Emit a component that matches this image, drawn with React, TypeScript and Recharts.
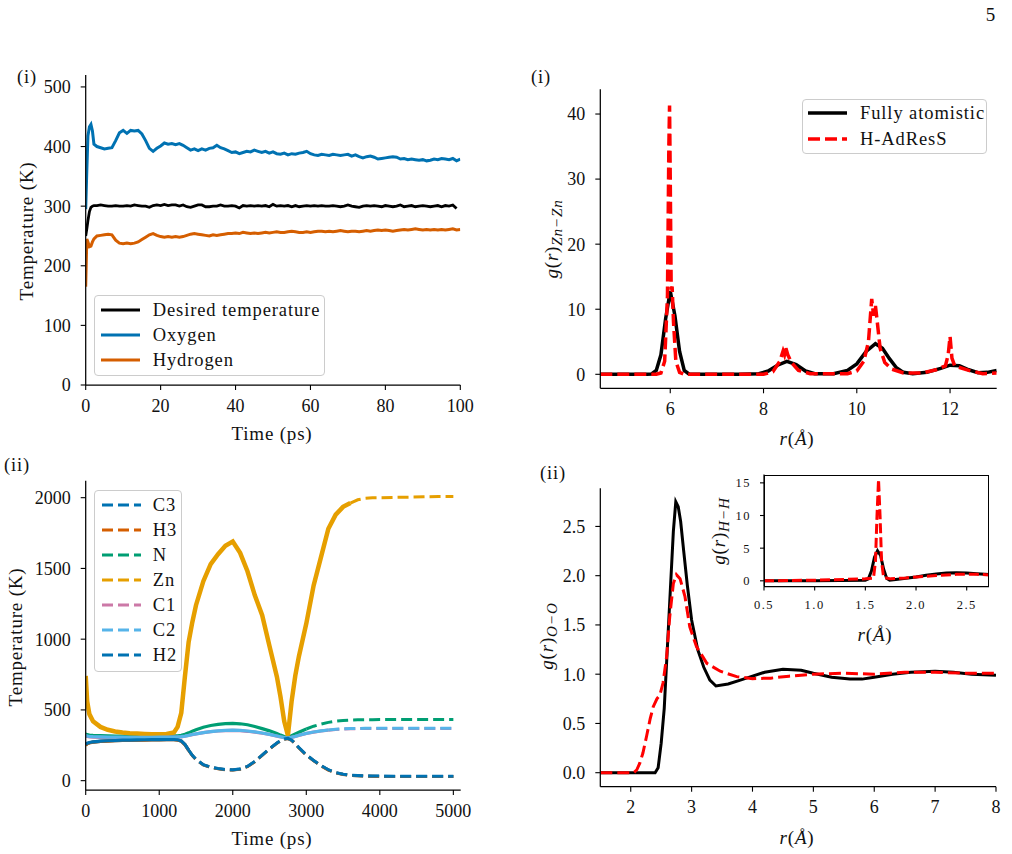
import React from 'react';
import { LineChart, Line, XAxis, YAxis } from 'recharts';

const SERIF = '"Liberation Serif", "Times New Roman", serif';
const INK = '#111';

// (i) left: thermostat check, 0-100 ps
const timeA = [0, 0.3, 0.6, 1, 1.4, 1.8, 2.2, 3, 4, 5, 6, 7, 8, 9, 10, 11, 12, 13, 14, 15, 16, 17, 18, 19, 20,
  21, 22, 23, 24, 25, 26, 27, 28, 29, 30, 31, 32, 33, 34, 35, 36, 37, 38, 39, 40,
  41, 42, 43, 44, 45, 46, 47, 48, 49, 50, 51, 52, 53, 54, 55, 56, 57, 58, 59, 60,
  61, 62, 63, 64, 65, 66, 67, 68, 69, 70, 71, 72, 73, 74, 75, 76, 77, 78, 79, 80,
  81, 82, 83, 84, 85, 86, 87, 88, 89, 90, 91, 92, 93, 94, 95, 96, 97, 98, 99, 100];
const desiredA = [250, 262, 276, 291, 298, 300, 301, 301, 302, 301, 300, 300, 301, 300, 300, 301, 300, 302, 301, 300, 300, 298, 301, 302, 301,
  303, 301, 302, 302, 300, 302, 299, 298, 300, 302, 302, 299, 299, 300, 300, 302, 300, 300, 301, 300,
  297, 301, 300, 301, 300, 301, 300, 301, 299, 303, 300, 301, 300, 301, 299, 301, 299, 300, 301, 300,
  301, 300, 301, 300, 300, 301, 300, 299, 300, 302, 300, 299, 298, 300, 301, 300, 301, 300, 299, 301,
  300, 299, 300, 302, 299, 300, 301, 299, 300, 301, 300, 299, 300, 301, 299, 301, 300, 302, 296, null];
const oxygenA = [295, 360, 418, 433, 437, 426, 404, 400, 398, 396, 397, 398, 410, 423, 427, 422, 427, 426, 427, 421, 410, 397, 392, 397, 401,
  406, 404, 405, 403, 405, 402, 398, 394, 396, 393, 396, 394, 397, 398, 402, 398, 396, 393, 390, 391,
  388, 390, 392, 391, 394, 392, 390, 392, 389, 391, 388, 387, 389, 386, 388, 387, 389, 390, 392, 388,
  386, 385, 387, 386, 385, 387, 386, 385, 386, 387, 384, 386, 383, 381, 383, 384, 382, 379, 380, 381,
  382, 383, 382, 379, 380, 378, 379, 378, 377, 378, 376, 377, 379, 378, 380, 379, 378, 380, 376, 379];
const hydrogenA = [165, 245, 240, 232, 233, 240, 245, 250, 251, 252, 253, 252, 243, 238, 237, 238, 237, 238, 240, 244, 248, 252, 254, 251, 249,
  248, 249, 248, 249, 248, 249, 251, 253, 254, 253, 252, 251, 250, 252, 251, 252, 253, 254, 254, 255,
  254, 256, 255, 254, 255, 254, 255, 256, 255, 256, 257, 256, 256, 257, 258, 257, 256, 256, 257, 256,
  257, 258, 258, 257, 258, 257, 258, 259, 258, 257, 258, 258, 257, 258, 259, 258, 259, 260, 259, 260,
  259, 258, 259, 260, 261, 260, 261, 262, 261, 260, 261, 260, 261, 260, 261, 260, 261, 262, 260, 261];

// (ii) left: per-species temperatures, 0-5000 ps
const timeB = [0, 20, 50, 100, 200, 300, 400, 500, 600, 700, 800, 900, 1000, 1100, 1200, 1250, 1300, 1350, 1400, 1450, 1500,
  1600, 1700, 1800, 1900, 2000, 2100, 2200, 2300, 2400, 2500, 2600, 2650, 2700, 2750, 2800, 2850, 2900,
  3000, 3100, 3200, 3300, 3400, 3500, 3600, 3700, 3800, 3900, 4000, 4200, 4400, 4600, 4800, 5000];
const tC3 = [255, 262, 268, 273, 278, 281, 283, 285, 286, 287, 288, 289, 289, 290, 290, 288, 280, 255, 215, 178, 150,
  112, 95, 85, 78, 76, 82, 100, 135, 180, 225, 265, 282, 294, 298, 286, 262, 232,
  182, 142, 106, 76, 56, 45, 38, 35, 33, 32, 31, 30, 30, 30, 30, 30];
const tH3 = [250, 260, 266, 272, 277, 280, 282, 284, 285, 286, 287, 288, 288, 289, 289, 287, 279, 254, 214, 177, 149,
  111, 94, 84, 77, 75, 81, 99, 134, 179, 224, 264, 281, 293, 297, 285, 261, 231,
  181, 141, 105, 75, 55, 44, 37, 34, 32, 31, 30, 30, 29, 29, 29, 29];
const tN = [330, 325, 322, 320, 318, 316, 315, 315, 314, 314, 314, 314, 314, 315, 316, 317, 320, 328, 338, 350, 360,
  378, 390, 398, 403, 405, 402, 395, 383, 368, 352, 333, 322, 312, 306, 318, 330, 342,
  365, 385, 400, 412, 420, 425, 428, 430, 431, 431, 432, 432, 432, 432, 432, 432];
const tZn = [740, 560, 470, 420, 380, 360, 348, 340, 335, 333, 330, 328, 328, 330, 340, 380, 480, 740, 980, 1120, 1240,
  1410, 1530, 1600, 1660, 1690, 1610, 1480, 1310, 1170, 950, 735, 590, 420, 320, 560, 740, 880,
  1110, 1380, 1580, 1780, 1880, 1935, 1962, 1985, 1995, 1999, 2000, 2002, 2004, 2006, 2008, 2008];
const tC1 = [315, 312, 310, 308, 306, 305, 305, 304, 304, 304, 304, 305, 305, 306, 307, 308, 310, 314, 319, 325, 330,
  339, 346, 351, 354, 355, 353, 349, 343, 335, 326, 315, 309, 303, 300, 306, 312, 320,
  333, 343, 351, 357, 362, 365, 367, 368, 369, 369, 369, 369, 369, 369, 369, 369];
const tC2 = [320, 316, 313, 311, 309, 308, 307, 307, 306, 306, 306, 306, 307, 307, 308, 309, 311, 315, 320, 326, 331,
  340, 347, 352, 355, 357, 355, 351, 345, 337, 327, 316, 310, 304, 301, 307, 313, 321,
  334, 344, 352, 358, 363, 366, 368, 369, 370, 370, 370, 370, 370, 370, 370, 370];
const tH2 = [258, 264, 270, 274, 279, 282, 284, 286, 287, 288, 289, 290, 290, 291, 291, 289, 281, 256, 216, 179, 151,
  113, 96, 86, 79, 77, 83, 101, 136, 181, 226, 266, 283, 295, 299, 287, 263, 233,
  183, 143, 107, 77, 57, 46, 39, 36, 34, 33, 32, 31, 31, 31, 31, 31];

const speciesNames = ['C3', 'H3', 'N', 'Zn', 'C1', 'C2', 'H2'];
const speciesColors = ['#0072B2', '#D55E00', '#009E73', '#E69F00', '#CC79A7', '#56B4E9', '#0072B2'];
const speciesValues = [tC3, tH3, tN, tZn, tC1, tC2, tH2];
// the raw traces are so noisy that the dashes fill in; they read as solid up to here
const denseUntil = [1400, 1400, 3000, 3600, 3300, 3300, 1400];

// (i) right: g(r) Zn-Zn
const znR_fa = [4.5, 5.5, 5.6, 5.7, 5.8, 5.9, 6.0, 6.1, 6.2, 6.3, 6.4, 6.6, 7.5, 7.9, 8.1, 8.3, 8.5, 8.7, 8.9, 9.1,
  9.5, 9.8, 10.0, 10.2, 10.4, 10.55, 10.7, 10.85, 11.0, 11.2, 11.5, 11.8, 12.0, 12.2, 12.4, 12.6, 12.8, 13.0];
const znG_fa = [0, 0, 0.05, 0.6, 3, 8.5, 12.8, 9, 3.5, 0.6, 0.05, 0, 0, 0.1, 0.5, 1.4, 2.0, 1.5, 0.5, 0.1,
  0.1, 0.6, 1.6, 3.5, 4.7, 4.0, 2.4, 1.0, 0.3, 0.1, 0.3, 0.9, 1.4, 1.3, 0.7, 0.25, 0.3, 0.6];
const znR_ad = [4.5, 5.7, 5.8, 5.88, 5.94, 5.97, 5.985, 6.0, 6.02, 6.04, 6.07, 6.12, 6.2, 6.3, 8.0, 8.2, 8.35, 8.42, 8.45, 8.48,
  8.52, 8.6, 8.75, 9.0, 9.8, 10.0, 10.15, 10.25, 10.32, 10.36, 10.4, 10.44, 10.5, 10.6, 10.75, 11.0, 11.4, 11.7, 11.9, 11.96,
  12.0, 12.04, 12.1, 12.4, 12.7, 13.0];
const znG_ad = [0, 0, 0.2, 2, 12, 35, 41.3, 30, 13, 13.5, 8, 2, 0.3, 0, 0, 0.4, 2, 3.6, 3, 4,
  3, 1.8, 0.6, 0.1, 0.1, 0.5, 2, 5, 11.6, 9, 10.5, 8, 4, 1.8, 0.8, 0.2, 0.2, 0.7, 1.3, 3,
  5.8, 2.5, 1.3, 0.6, 0.1, 0.2];

// (ii) right: g(r) O-O
const ooR_fa = [1.5, 2.4, 2.45, 2.5, 2.55, 2.6, 2.65, 2.7, 2.74, 2.78, 2.82, 2.87, 2.93, 3.0, 3.1, 3.2, 3.3, 3.4, 3.6, 3.8,
  4.0, 4.2, 4.5, 4.8, 5.0, 5.3, 5.6, 5.8, 6.0, 6.3, 6.6, 7.0, 7.3, 7.6, 8.0];
const ooG_fa = [0, 0, 0.05, 0.3, 0.65, 1.25, 1.85, 2.45, 2.75, 2.7, 2.55, 2.25, 1.9, 1.55, 1.25, 1.07, 0.94, 0.88, 0.9, 0.94,
  0.98, 1.02, 1.05, 1.04, 1.01, 0.97, 0.95, 0.95, 0.97, 1.0, 1.02, 1.03, 1.02, 1.0, 0.99];
const ooR_ad = [1.5, 2.05, 2.1, 2.15, 2.2, 2.26, 2.32, 2.37, 2.43, 2.48, 2.53, 2.59, 2.64, 2.7, 2.75, 2.81, 2.89, 2.97, 3.08, 3.25,
  3.47, 3.74, 4.0, 4.3, 4.6, 5.0, 5.5, 6.0, 6.5, 7.0, 7.5, 8.0];
const ooG_ad = [0, 0, 0.03, 0.1, 0.2, 0.37, 0.55, 0.67, 0.75, 0.79, 0.91, 1.18, 1.58, 1.92, 2.01, 1.97, 1.79, 1.48, 1.28, 1.11,
  1.03, 0.975, 0.955, 0.96, 0.98, 1.0, 1.01, 1.0, 1.02, 1.02, 1.01, 1.01];

// inset: g(r) H-H
const hhR_fa = [0.5, 1.0, 1.5, 1.53, 1.56, 1.59, 1.62, 1.65, 1.68, 1.71, 1.74, 1.8, 1.9, 2.0, 2.1, 2.2, 2.3, 2.4, 2.5, 2.6, 2.72];
const hhG_fa = [0, 0.02, 0.1, 0.3, 1.5, 3.6, 4.6, 3.9, 1.8, 0.4, 0.1, 0.2, 0.4, 0.6, 0.85, 1.05, 1.2, 1.25, 1.2, 1.1, 0.95];
const hhR_ad = [0.5, 1.0, 1.5, 1.58, 1.6, 1.615, 1.63, 1.645, 1.66, 1.68, 1.75, 1.9, 2.0, 2.2, 2.4, 2.6, 2.72];
const hhG_ad = [0, 0.1, 0.3, 0.4, 3, 10, 15.5, 10, 3, 0.5, 0.3, 0.45, 0.6, 0.8, 1.0, 1.0, 0.9];

const thermoRows = timeA.map((t, i) => ({ t, desired: desiredA[i], oxygen: oxygenA[i], hydrogen: hydrogenA[i] }));
const speciesRows = timeB.map((t, i) => {
  const row: Record<string, number> = { t };
  speciesNames.forEach((n, k) => { row[n] = speciesValues[k][i]; });
  return row;
});
const pairs = (xs: number[], ys: number[]) => xs.map((r, i) => ({ r, g: ys[i] }));

const axisLine = { stroke: '#000', strokeWidth: 1.25 };
const tickLine = { stroke: '#000', strokeWidth: 1.1 };
const tick = { fill: INK, fontSize: 18, fontFamily: SERIF };
const smallTick = { fill: INK, fontSize: 12.5, fontFamily: SERIF, letterSpacing: 1.5 };
const RED_DASH = '12 5';

function Txt({ x, y, size = 19, rotate = false, children }: any) {
  return (
    <div
      style={{
        position: 'absolute', left: x, top: y, whiteSpace: 'nowrap', lineHeight: 1,
        transform: `translate(-50%, -50%)${rotate ? ' rotate(-90deg)' : ''}`,
        fontFamily: SERIF, fontSize: size, color: INK, letterSpacing: 0.8,
      }}
    >
      {children}
    </div>
  );
}

function LegendBox({ box, firstY, step, sampleX, textX, items }: any) {
  return (
    <div
      style={{
        position: 'absolute', left: box[0], top: box[1], width: box[2], height: box[3], boxSizing: 'border-box',
        border: '1px solid #cccccc', borderRadius: 4, background: 'rgba(255,255,255,0.8)',
      }}
    >
      {items.map((it: any, i: number) => (
        <div key={it.name} style={{ position: 'absolute', left: 0, top: firstY - box[1] + i * step - 12, height: 24, width: '100%' }}>
          <svg width={39} height={24} style={{ position: 'absolute', left: sampleX - box[0], top: 0 }}>
            <line x1={0} y1={12} x2={39} y2={12} stroke={it.color} strokeWidth={it.width || 3} strokeDasharray={it.dash} />
          </svg>
          <span style={{
            position: 'absolute', left: textX - box[0], top: 12, transform: 'translateY(-50%)', lineHeight: 1,
            fontFamily: SERIF, fontSize: 18.5, color: INK, whiteSpace: 'nowrap', letterSpacing: 0.9,
          }}>{it.name}</span>
        </div>
      ))}
    </div>
  );
}

const RA = () => (<><i>r</i>(<i>Å</i>)</>);
const SUB = { fontSize: '0.8em' };

export default function App() {
  return (
    <div style={{ position: 'absolute', left: 0, top: 0, width: 1012, height: 854, background: '#fff', overflow: 'hidden' }}>
      {/* (i) left */}
      <div style={{ position: 'absolute', left: 0, top: 60 }}>
        <LineChart width={480} height={360} data={thermoRows} margin={{ top: 15, right: 19.7, bottom: 0, left: 0 }}>
          <XAxis dataKey="t" type="number" domain={[0, 100]} ticks={[0, 20, 40, 60, 80, 100]} interval={0} allowDataOverflow
            height={35} tickSize={5} tickMargin={9} axisLine={axisLine} tickLine={tickLine} tick={tick} />
          <YAxis type="number" domain={[0, 520]} ticks={[0, 100, 200, 300, 400, 500]} interval={0} allowDataOverflow
            width={85.7} tickSize={5} tickMargin={10} axisLine={axisLine} tickLine={tickLine} tick={tick} />
          <Line dataKey="desired" stroke="#000" strokeWidth={2.8} dot={false} activeDot={false} isAnimationActive={false} />
          <Line dataKey="oxygen" stroke="#0072B2" strokeWidth={3} dot={false} activeDot={false} isAnimationActive={false} />
          <Line dataKey="hydrogen" stroke="#D55E00" strokeWidth={3} dot={false} activeDot={false} isAnimationActive={false} />
        </LineChart>
      </div>
      <LegendBox box={[94.3, 295, 230.7, 80.7]} firstY={309} step={25} sampleX={100} textX={151.7}
        items={[
          { name: 'Desired temperature', color: '#000' },
          { name: 'Oxygen', color: '#0072B2' },
          { name: 'Hydrogen', color: '#D55E00' },
        ]} />

      {/* (ii) left */}
      <div style={{ position: 'absolute', left: 0, top: 465 }}>
        <LineChart width={480} height={360} margin={{ top: 15.7, right: 19.3, bottom: 0, left: 0 }}>
          <XAxis dataKey="t" type="number" domain={[0, 5100]} ticks={[0, 1000, 2000, 3000, 4000, 5000]} interval={0} allowDataOverflow
            height={35} tickSize={5} tickMargin={9} axisLine={axisLine} tickLine={tickLine} tick={tick} />
          <YAxis type="number" domain={[-66, 2120]} ticks={[0, 500, 1000, 1500, 2000]} interval={0} allowDataOverflow
            width={85.7} tickSize={5} tickMargin={10} axisLine={axisLine} tickLine={tickLine} tick={tick} />
          {speciesNames.map((name, k) => [
            <Line key={name + '-dense'} data={speciesRows.filter((r) => r.t <= denseUntil[k])} dataKey={name}
              stroke={speciesColors[k]} strokeWidth={name === 'Zn' ? 4.5 : 3.2} dot={false} activeDot={false} isAnimationActive={false} />,
            <Line key={name + '-smooth'} data={speciesRows.filter((r) => r.t >= denseUntil[k])} dataKey={name}
              stroke={speciesColors[k]} strokeWidth={3} strokeDasharray="11 5" dot={false} activeDot={false} isAnimationActive={false} />,
          ])}
        </LineChart>
      </div>
      <LegendBox box={[94.3, 490, 87.4, 181.7]} firstY={504} step={25} sampleX={101} textX={151.7}
        items={speciesNames.map((name, k) => ({ name, color: speciesColors[k], dash: '11 5' }))} />

      {/* (i) right */}
      <div style={{ position: 'absolute', left: 515, top: 75 }}>
        <LineChart width={497} height={348.3} margin={{ top: 14.3, right: 15.3, bottom: 0, left: 0 }}>
          <XAxis dataKey="r" type="number" domain={[4.5, 13]} ticks={[6, 8, 10, 12]} interval={0} allowDataOverflow
            height={35} tickSize={5} tickMargin={9} axisLine={axisLine} tickLine={tickLine} tick={tick} />
          <YAxis type="number" domain={[-2.15, 43.8]} ticks={[0, 10, 20, 30, 40]} interval={0} allowDataOverflow
            width={85.3} tickSize={5} tickMargin={10} axisLine={axisLine} tickLine={tickLine} tick={tick} />
          <Line data={pairs(znR_fa, znG_fa)} dataKey="g" stroke="#000" strokeWidth={3.5} dot={false} activeDot={false} isAnimationActive={false} />
          <Line data={pairs(znR_ad, znG_ad)} dataKey="g" stroke="#ff0000" strokeWidth={3.5} strokeDasharray={RED_DASH} dot={false} activeDot={false} isAnimationActive={false} />
        </LineChart>
      </div>
      <LegendBox box={[801.7, 99, 185, 55]} firstY={112.3} step={25.4} sampleX={807} textX={859}
        items={[
          { name: 'Fully atomistic', color: '#000', width: 3.5 },
          { name: 'H-AdResS', color: '#ff0000', width: 3.5, dash: RED_DASH },
        ]} />

      {/* (ii) right */}
      <div style={{ position: 'absolute', left: 515, top: 470 }}>
        <LineChart width={497} height={351.7} margin={{ top: 18.3, right: 16, bottom: 0, left: 0 }}>
          <XAxis dataKey="r" type="number" domain={[1.5, 8]} ticks={[2, 3, 4, 5, 6, 7, 8]} interval={0} allowDataOverflow
            height={35} tickSize={5} tickMargin={9} axisLine={axisLine} tickLine={tickLine} tick={tick} />
          <YAxis type="number" domain={[-0.142, 2.887]} ticks={[0, 0.5, 1, 1.5, 2, 2.5]} interval={0} allowDataOverflow
            tickFormatter={(v: number) => v.toFixed(1)}
            width={85.3} tickSize={5} tickMargin={10} axisLine={axisLine} tickLine={tickLine} tick={tick} />
          <Line data={pairs(ooR_fa, ooG_fa)} dataKey="g" stroke="#000" strokeWidth={3} dot={false} activeDot={false} isAnimationActive={false} />
          <Line data={pairs(ooR_ad, ooG_ad)} dataKey="g" stroke="#ff0000" strokeWidth={3} strokeDasharray={RED_DASH} dot={false} activeDot={false} isAnimationActive={false} />
        </LineChart>
      </div>

      {/* inset H-H */}
      <div style={{ position: 'absolute', left: 700, top: 465 }}>
        <LineChart width={300} height={150} margin={{ top: 9.5, right: 11, bottom: 0, left: 0 }}>
          <XAxis dataKey="r" type="number" domain={[0.5, 2.72]} ticks={[0.5, 1, 1.5, 2, 2.5]} interval={0} allowDataOverflow
            tickFormatter={(v: number) => v.toFixed(1)}
            height={28.5} tickSize={4} tickMargin={10} axisLine={axisLine} tickLine={tickLine} tick={smallTick} />
          <YAxis type="number" domain={[-0.87, 16.28]} ticks={[0, 5, 10, 15]} interval={0} allowDataOverflow
            width={64} tickSize={4} tickMargin={9} axisLine={axisLine} tickLine={tickLine} tick={smallTick} />
          <Line data={pairs(hhR_fa, hhG_fa)} dataKey="g" stroke="#000" strokeWidth={3} dot={false} activeDot={false} isAnimationActive={false} />
          <Line data={pairs(hhR_ad, hhG_ad)} dataKey="g" stroke="#ff0000" strokeWidth={3} strokeDasharray="10 4" dot={false} activeDot={false} isAnimationActive={false} />
        </LineChart>
      </div>
      <div style={{ position: 'absolute', left: 764, top: 474.5, width: 225, height: 112, border: '1.25px solid #000', boxSizing: 'border-box', pointerEvents: 'none' }} />

      {/* axis labels */}
      <Txt x={26} y={231} rotate>Temperature (K)</Txt>
      <Txt x={272} y={433}>Time (ps)</Txt>
      <Txt x={15} y={637} rotate>Temperature (K)</Txt>
      <Txt x={272} y={838}>Time (ps)</Txt>
      <Txt x={553} y={239} rotate><i>g</i>(<i>r</i>)<sub style={SUB}><i>Zn−Zn</i></sub></Txt>
      <Txt x={797} y={438}><RA /></Txt>
      <Txt x={548} y={636} rotate><i>g</i>(<i>r</i>)<sub style={SUB}><i>O−O</i></sub></Txt>
      <Txt x={797} y={837}><RA /></Txt>
      <Txt x={720} y={531} rotate><i>g</i>(<i>r</i>)<sub style={SUB}><i>H−H</i></sub></Txt>
      <Txt x={875} y={634}><RA /></Txt>

      {/* panel tags and page number */}
      <Txt x={27} y={77} size={18.5}>(i)</Txt>
      <Txt x={541} y={77} size={18.5}>(i)</Txt>
      <Txt x={17} y={465} size={18.5}>(ii)</Txt>
      <Txt x={553} y={473} size={18.5}>(ii)</Txt>
      <Txt x={991} y={14} size={19}>5</Txt>
    </div>
  );
}
